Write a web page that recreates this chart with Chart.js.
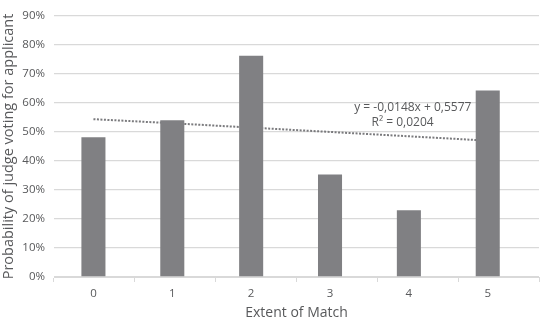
<!DOCTYPE html>
<html>
<head>
<meta charset="utf-8">
<script src="https://cdn.jsdelivr.net/npm/chart.js@4/dist/chart.umd.min.js"></script>
<style>
  html, body { margin: 0; padding: 0; background: #fff; }
  #wrap { width: 541px; height: 320px; }
</style>
</head>
<body>
<div id="wrap"><canvas id="myChart" width="541" height="320"></canvas></div>
<script>
// values (percent)
const categories = ['0', '1', '2', '3', '4', '5'];
const probability = [48.2, 54.0, 76.3, 35.3, 23.0, 64.3];
const trendValues = [54.4, 53.0, 51.5, 50.0, 48.5, 47.0];
const trendLabel = ['y = -0,0148x + 0,5577', 'R\u00b2 = 0,0204'];
const yTicks = [0, 10, 20, 30, 40, 50, 60, 70, 80, 90];

const textColor = '#58595b';
const barColor = '#808083';
const gridColor = '#d9d9d9';
const fontFamily = '"Open Sans", "Liberation Sans", sans-serif';

const toPoints = values => values.map((v, i) => ({ x: Number(categories[i]), y: v }));

// draws the regression equation next to the trend line
const trendText = {
	id: 'trendText',
	afterDatasetsDraw(chart) {
		const { ctx, scales } = chart;
		ctx.save();
		ctx.fillStyle = textColor;
		ctx.font = '12px ' + fontFamily;
		ctx.textAlign = 'center';
		ctx.textBaseline = 'middle';
		ctx.fillText(trendLabel[0], scales.x.getPixelForValue(4.05), scales.y.getPixelForValue(58.4));
		ctx.fillText(trendLabel[1], scales.x.getPixelForValue(3.92), scales.y.getPixelForValue(53.3));
		ctx.restore();
	}
};

const ctx = document.getElementById('myChart');
const myChart = new Chart(ctx, {
	data: {
		labels: categories,
		datasets: [
			{
				type: 'bar',
				xAxisID: 'x',
				data: toPoints(probability),
				backgroundColor: barColor,
				barPercentage: 0.305,
				categoryPercentage: 1,
				order: 0
			},
			{
				type: 'line',
				xAxisID: 'x',
				data: toPoints(trendValues),
				borderColor: '#7a7a7d',
				borderWidth: 2,
				borderDash: [2, 1.5],
				pointRadius: 0,
				fill: false,
				tension: 0,
				order: 1
			}
		]
	},
	options: {
		responsive: false,
		animation: false,
		layout: { padding: { top: 7, right: 2, left: 0, bottom: 0 } },
		plugins: {
			legend: { display: false },
			tooltip: { enabled: false }
		},
		scales: {
			// category axis only for the small tick marks between categories
			xc: {
				type: 'category',
				position: 'bottom',
				weight: 0,
				offset: true,
				grid: {
					offset: true,
					drawOnChartArea: false,
					tickLength: 5,
					color: gridColor
				},
				border: { color: gridColor },
				ticks: { display: false },
				afterFit(scale) { scale.height = 0; }
			},
			x: {
				type: 'linear',
				position: 'bottom',
				weight: 1,
				offset: false,
				min: -0.5,
				max: 5.65,
				afterBuildTicks(scale) { scale.ticks = categories.map(c => ({ value: Number(c) })); },
				grid: { display: false },
				border: { display: false },
				ticks: {
					color: textColor,
					font: { family: fontFamily, size: 11.5 },
					padding: 2,
					callback: v => String(v)
				},
				title: {
					display: true,
					text: 'Extent of Match',
					color: textColor,
					font: { family: fontFamily, size: 14 },
					padding: { top: 0, bottom: -1 }
				},
				afterFit(scale) { scale.height = 43; }
			},
			y: {
				min: 0,
				max: 90,
				afterBuildTicks(scale) { scale.ticks = yTicks.map(v => ({ value: v })); },
				grid: { color: gridColor, lineWidth: 1.3, drawTicks: false },
				border: { display: false },
				ticks: {
					color: textColor,
					font: { family: fontFamily, size: 11.5 },
					padding: 9,
					callback: v => v + '%'
				},
				title: {
					display: true,
					text: 'Probability of judge voting for applicant',
					color: textColor,
					font: { family: fontFamily, size: 14.5 },
					padding: 0
				},
				afterFit(scale) { scale.width = 54; }
			}
		}
	},
	plugins: [trendText]
});
</script>
</body>
</html>
